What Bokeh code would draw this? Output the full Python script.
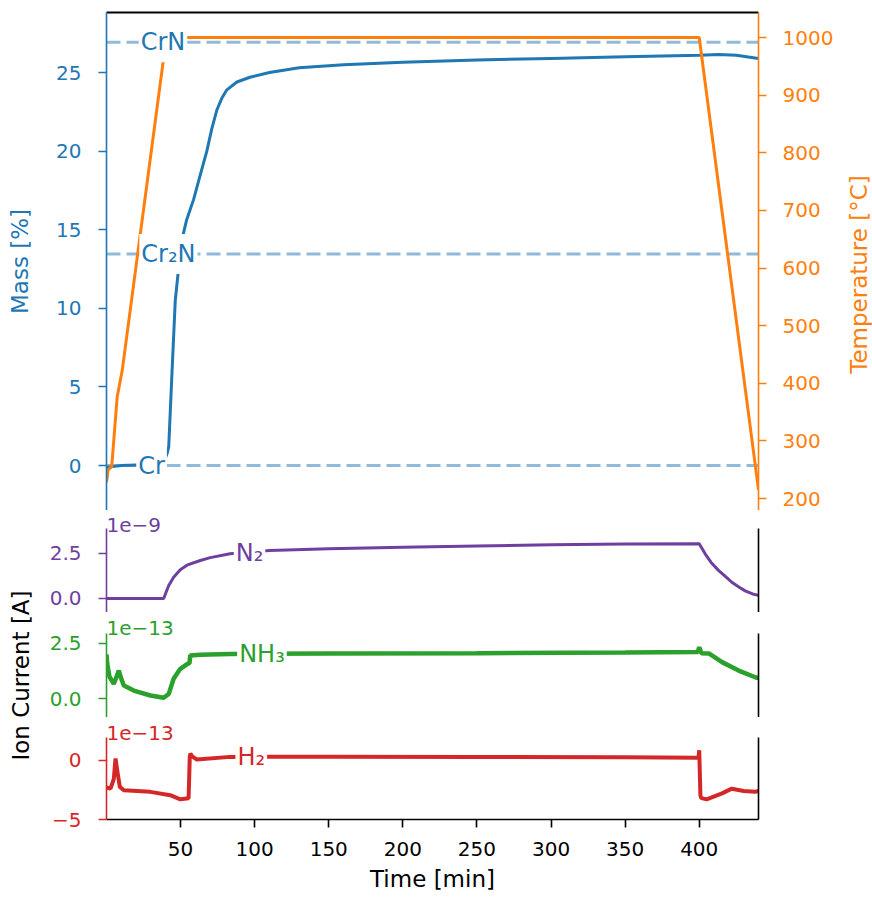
from bokeh.plotting import figure
from bokeh.models import Range1d, LinearAxis, FixedTicker, Span, Label
from bokeh.layouts import column, row
from bokeh.embed import file_html
from bokeh.resources import INLINE

# ---------------- data ----------------
time_mass_min = [0, 1, 10, 25, 36, 39, 41, 42, 44, 46.4, 48.4, 51, 54, 58.7, 63, 67.7, 71,
                 74.4, 78, 81.2, 88, 96.8, 110, 130, 160, 200, 250, 300, 350, 400, 413, 425, 440]
mass_pct = [-0.9, -0.1, 0.0, 0.05, 0.1, 0.3, 0.8, 1.2, 5.5, 10.5, 12.3, 14.4, 15.6, 16.9, 18.4,
            20.0, 21.4, 22.6, 23.4, 23.9, 24.4, 24.7, 25.0, 25.3, 25.5, 25.65, 25.8, 25.9,
            26.0, 26.1, 26.15, 26.1, 25.9]

time_temp_min = [0, 1, 3.5, 7.2, 10.6, 40.4, 400, 440]
temp_c = [228, 250, 255, 376, 422, 1000, 1000, 215]

phase_names = ["Cr", "Cr₂N", "CrN"]
phase_mass_pct = [0.0, 13.46, 26.92]
phase_label_time = [30.4, 41.8, 38.1]

time_n2_min = [0, 38.6, 40, 42, 45.3, 49.8, 54.3, 63.3, 70, 83.4, 110, 150, 200, 250, 300,
               350, 400, 404, 408, 413, 418, 422, 427, 431, 436, 440]
n2_current_e9 = [0, 0, 0.3, 0.72, 1.18, 1.6, 1.85, 2.11, 2.27, 2.48, 2.67, 2.76, 2.84, 2.92,
                 2.98, 3.02, 3.04, 2.48, 2.0, 1.56, 1.2, 0.9, 0.62, 0.42, 0.25, 0.17]

time_nh3_min = [0, 0.5, 2, 4.9, 6.5, 8.3, 10, 11.7, 18.4, 29.6, 38.6, 42, 45.3, 49.8, 54.7,
                56, 56.5, 63.3, 83.4, 150, 250, 350, 399, 400, 401.5, 406.5, 415.4, 426.6,
                437.8, 440]
nh3_current_e13 = [2.0, 1.57, 1.0, 0.67, 0.95, 1.27, 0.9, 0.6, 0.37, 0.15, 0.05, 0.22, 0.9,
                   1.35, 1.57, 1.6, 1.95, 1.98, 2.02, 2.04, 2.05, 2.08, 2.1, 2.32, 2.05, 2.04,
                   1.65, 1.27, 0.97, 0.93]

time_h2_min = [0, 2.7, 4.9, 6.1, 7.2, 9, 11.7, 29.6, 43, 49.8, 55.4, 56.2, 56.6, 58, 61,
               83.4, 150, 250, 350, 399.5, 400, 400.8, 401.5, 405, 415.4, 422, 430, 437.8, 440]
h2_current_e13 = [-2.3, -2.4, -1.6, 0.14, -0.84, -2.25, -2.53, -2.67, -2.95, -3.3, -3.2, 0.3,
                  0.56, 0.3, 0.06, 0.28, 0.3, 0.28, 0.25, 0.2, 0.84, -3.0, -3.2, -3.3, -2.8,
                  -2.4, -2.6, -2.67, -2.6]

ion_names = ["N₂", "NH₃", "H₂"]
ion_label_time = [96.5, 104.9, 97.7]
ion_label_value = [2.55, 2.02, 0.28]
ion_offsets = ["1e−9", "1e−13", "1e−13"]

time_ticks = [50, 100, 150, 200, 250, 300, 350, 400]
mass_ticks = [0, 5, 10, 15, 20, 25]
temp_ticks = [200, 300, 400, 500, 600, 700, 800, 900, 1000]
n2_ticks = [0, 2.5]
nh3_ticks = [0, 2.5]
h2_ticks = [-5, 0]

# ---------------- style ----------------
FONT = "DejaVu Sans"
BLUE = "#1f77b4"
ORANGE = "#ff7f0e"
GREEN = "#2ca02c"
RED = "#d62728"
PURPLE = "#6f3f9f"
FW = 652          # frame width
BL = 106          # left border (all panels)
BR = 114          # right border (ion panels)
LW = 40           # strip holding "Ion Current [A]"
TW = 38           # strip holding "Temperature [°C]"

x_range = Range1d(0, 440)


def make_fig(frame_h, top, bottom, y_range, left, right, xaxis=False):
    p = figure(frame_width=FW, frame_height=frame_h, x_range=x_range, y_range=y_range,
               output_backend="svg", toolbar_location=None,
               x_axis_location="below" if xaxis else None,
               min_border_left=left, min_border_right=right,
               min_border_top=top, min_border_bottom=bottom)
    p.outline_line_color = None
    p.grid.visible = False
    p.background_fill_color = "white"
    p.border_fill_color = "white"
    return p


def style_axis(ax, color, ticks, overrides=None, label=None, std=17, lstd=18,
               label_color=None, bounds=None):
    ax.ticker = FixedTicker(ticks=ticks)
    if overrides:
        ax.major_label_overrides = overrides
    if bounds:
        ax.bounds = bounds
    ax.minor_tick_line_color = None
    ax.major_tick_in = 0
    ax.major_tick_out = 8
    ax.major_tick_line_width = 1.6
    ax.major_tick_line_color = color
    ax.axis_line_width = 1.6
    ax.axis_line_color = color
    ax.major_label_text_color = color
    ax.major_label_text_font = FONT
    ax.major_label_text_font_size = "20px"
    ax.major_label_standoff = std
    if label:
        ax.axis_label = label
        ax.axis_label_text_color = label_color or color
        ax.axis_label_text_font = FONT
        ax.axis_label_text_font_size = "23px"
        ax.axis_label_text_font_style = "normal"
        ax.axis_label_standoff = lstd


def spine(side_color="black", width=1.6, bounds="auto"):
    return LinearAxis(ticker=FixedTicker(ticks=[]), axis_line_color=side_color,
                      axis_line_width=width, major_tick_out=0, major_tick_in=0,
                      major_label_standoff=0, minor_tick_line_color=None,
                      major_tick_line_color=None, major_label_text_font_size="0px",
                      bounds=bounds)


def line_label(p, x, y, text, color):
    p.add_layout(Label(x=x, y=y, text=text, text_align="center", text_baseline="middle",
                       text_color=color, text_font=FONT, text_font_size="24px",
                       background_fill_color="white", background_fill_alpha=1.0,
                       padding=(2, 6)))


def offset_label(p, text, color, y_px):
    # matplotlib-style offset text in the headroom above the panel's axis
    p.add_layout(Label(x=0, y=y_px, x_units="data", y_units="screen", text=text,
                       text_align="left", text_baseline="alphabetic", text_color=color,
                       text_font=FONT, text_font_size="20px"))


def strip(width, height, text, x_px, y_px, color="black"):
    s = figure(frame_width=width, frame_height=height, x_range=Range1d(0, 1),
               y_range=Range1d(0, 1), output_backend="svg", toolbar_location=None,
               x_axis_location=None, y_axis_location=None, min_border_left=0,
               min_border_right=0, min_border_top=0, min_border_bottom=0)
    s.outline_line_color = None
    s.grid.visible = False
    s.add_layout(Label(x=x_px, y=y_px, x_units="screen", y_units="screen", text=text,
                       angle=90, angle_units="deg", text_align="center",
                       text_baseline="middle", text_color=color, text_font=FONT,
                       text_font_size="23px"))
    return s


# ---------------- top panel: mass + temperature ----------------
P1_TOP = 12
P1_H = 498
mass_top = 28.82
mass_bottom = mass_top - P1_H / 15.72
temp_top = 1043.4
temp_bottom = temp_top - P1_H / 0.57625

p1 = make_fig(P1_H, P1_TOP, 0, Range1d(mass_bottom, mass_top), BL, BR - TW)
p1.extra_y_ranges = {"temp": Range1d(temp_bottom, temp_top)}
style_axis(p1.yaxis[0], BLUE, mass_ticks, label="Mass [%]", std=17, lstd=20)
temp_axis = LinearAxis(y_range_name="temp")
style_axis(temp_axis, ORANGE, temp_ticks, std=16)
p1.add_layout(temp_axis, "right")
p1.add_layout(spine("black", 2), "above")

for m in phase_mass_pct:
    p1.add_layout(Span(location=m, dimension="width", line_color=BLUE, line_alpha=0.5,
                       line_width=3, line_dash="14 6", level="underlay"))

p1.line(time_mass_min, mass_pct, line_color=BLUE, line_width=3)
p1.line(time_temp_min, temp_c, line_color=ORANGE, line_width=3, y_range_name="temp")

for name, m, t in zip(phase_names, phase_mass_pct, phase_label_time):
    line_label(p1, t, m, name, BLUE)

temp_strip = strip(TW, P1_TOP + P1_H, "Temperature [°C]", 22, (P1_TOP + P1_H) - 262, ORANGE)

# ---------------- ion current panels (frames include headroom for offset text) ----
IL = BL - LW

# N2: axis spans 3.89 .. -0.78 (18 px per unit), frame 102 px tall
n2_lo, n2_hi = -0.78, 3.89
p2 = make_fig(102, 0, 0, Range1d(n2_lo, n2_lo + 102 / 18.0), IL, BR)
style_axis(p2.yaxis[0], PURPLE, n2_ticks, overrides={0: "0.0", 2.5: "2.5"}, bounds=(n2_lo, n2_hi))
p2.add_layout(spine(bounds=(n2_lo, n2_hi)), "right")
p2.line(time_n2_min, n2_current_e9, line_color=PURPLE, line_width=3)
line_label(p2, ion_label_time[0], ion_label_value[0], ion_names[0], PURPLE)
offset_label(p2, ion_offsets[0], PURPLE, 88)

# NH3: 22.24 px per unit, frame 105 px tall
nh3_lo, nh3_hi = -0.84, 2.93
p3 = make_fig(105, 0, 0, Range1d(nh3_lo, nh3_lo + 105 / 22.24), IL, BR)
style_axis(p3.yaxis[0], GREEN, nh3_ticks, overrides={0: "0.0", 2.5: "2.5"},
           bounds=(nh3_lo, nh3_hi))
p3.add_layout(spine(bounds=(nh3_lo, nh3_hi)), "right")
p3.line(time_nh3_min, nh3_current_e13, line_color=GREEN, line_width=4.5)
line_label(p3, ion_label_time[1], ion_label_value[1], ion_names[1], GREEN)
offset_label(p3, ion_offsets[1], GREEN, 90)

# H2: 11.86 px per unit, frame 102 px tall
h2_lo, h2_hi = -5.0, 1.94
p4 = make_fig(102, 0, 80, Range1d(h2_lo, h2_lo + 102 / 11.86), IL, BR, xaxis=True)
style_axis(p4.yaxis[0], RED, h2_ticks, overrides={-5: "−5", 0: "0"}, bounds=(h2_lo, h2_hi))
p4.add_layout(spine(bounds=(h2_lo, h2_hi)), "right")
style_axis(p4.xaxis[0], "black", time_ticks, label="Time [min]", std=14, lstd=7)
p4.line(time_h2_min, h2_current_e13, line_color=RED, line_width=4)
line_label(p4, ion_label_time[2], ion_label_value[2], ion_names[2], RED)
offset_label(p4, ion_offsets[2], RED, 87)

ION_H = 102 + 105 + 102 + 80
ion_strip = strip(LW, ION_H, "Ion Current [A]", 20, ION_H - (675 - 510))

layout = column(
    row(p1, temp_strip, spacing=0),
    row(ion_strip, column(p2, p3, p4, spacing=0), spacing=0),
    spacing=0,
)

open("out.html", "w").write(file_html(layout, INLINE))
